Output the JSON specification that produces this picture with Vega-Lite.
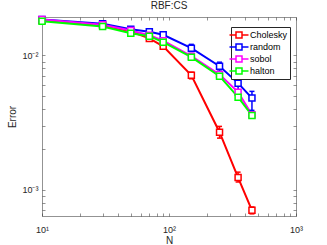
{
  "$schema": "https://vega.github.io/schema/vega-lite/v6.json",
  "width": 254,
  "height": 199,
  "autosize": "none",
  "padding": {"left": 42, "top": 17, "right": 31, "bottom": 29},
  "background": "white",
  "config": {"font": "Liberation Sans", "view": {"stroke": null}},
  "title": {"text": "RBF:CS", "fontSize": 10, "fontWeight": "normal", "color": "#262626", "offset": 3, "dy": 8, "baseline": "alphabetic", "anchor": "middle", "frame": "group"},
  "data": {"values": [
    {"s": "Cholesky", "N": 10, "e": 0.0183, "lo": 0.0181, "hi": 0.0185},
    {"s": "Cholesky", "N": 30, "e": 0.0168, "lo": 0.0166, "hi": 0.0170},
    {"s": "Cholesky", "N": 50, "e": 0.0151, "lo": 0.0149, "hi": 0.0153},
    {"s": "Cholesky", "N": 70, "e": 0.0134, "lo": 0.0132, "hi": 0.0136},
    {"s": "Cholesky", "N": 90, "e": 0.0117, "lo": 0.0115, "hi": 0.0120},
    {"s": "Cholesky", "N": 150, "e": 0.00712, "lo": 0.0067, "hi": 0.0075},
    {"s": "Cholesky", "N": 250, "e": 0.00268, "lo": 0.00242, "hi": 0.00296},
    {"s": "Cholesky", "N": 350, "e": 0.00123, "lo": 0.00114, "hi": 0.00135},
    {"s": "Cholesky", "N": 450, "e": 0.000701, "lo": 0.00066, "hi": 0.000742},
    {"s": "random", "N": 10, "e": 0.0185, "lo": 0.0182, "hi": 0.0188},
    {"s": "random", "N": 30, "e": 0.01722, "lo": 0.0168, "hi": 0.0176},
    {"s": "random", "N": 50, "e": 0.0157, "lo": 0.0153, "hi": 0.0161},
    {"s": "random", "N": 70, "e": 0.0150, "lo": 0.0146, "hi": 0.0154},
    {"s": "random", "N": 90, "e": 0.01426, "lo": 0.0137, "hi": 0.0148},
    {"s": "random", "N": 150, "e": 0.01133, "lo": 0.0107, "hi": 0.0121},
    {"s": "random", "N": 250, "e": 0.00832, "lo": 0.00764, "hi": 0.00891},
    {"s": "random", "N": 350, "e": 0.00622, "lo": 0.00542, "hi": 0.0071},
    {"s": "random", "N": 450, "e": 0.00481, "lo": 0.0039, "hi": 0.0054},
    {"s": "sobol", "N": 10, "e": 0.0185},
    {"s": "sobol", "N": 30, "e": 0.01694},
    {"s": "sobol", "N": 50, "e": 0.01535},
    {"s": "sobol", "N": 70, "e": 0.01416},
    {"s": "sobol", "N": 90, "e": 0.01287},
    {"s": "sobol", "N": 150, "e": 0.00988},
    {"s": "sobol", "N": 250, "e": 0.00722},
    {"s": "sobol", "N": 350, "e": 0.00533},
    {"s": "sobol", "N": 450, "e": 0.00362},
    {"s": "halton", "N": 10, "e": 0.0180},
    {"s": "halton", "N": 30, "e": 0.01644},
    {"s": "halton", "N": 50, "e": 0.01466},
    {"s": "halton", "N": 70, "e": 0.01392},
    {"s": "halton", "N": 90, "e": 0.01256},
    {"s": "halton", "N": 150, "e": 0.00971},
    {"s": "halton", "N": 250, "e": 0.00701},
    {"s": "halton", "N": 350, "e": 0.00489},
    {"s": "halton", "N": 450, "e": 0.00357}
  ]},
  "layer": [
    {
      "mark": {"type": "line", "strokeWidth": 2},
      "encoding": {
        "x": {"field": "N", "type": "quantitative",
          "scale": {"type": "log", "domain": [10, 1000], "nice": false},
          "axis": {"orient": "bottom", "title": "N", "values": [10,20,30,40,50,60,70,80,90,100,200,300,400,500,600,700,800,900,1000],
            "labelExpr": "datum.value == 10 ? '10¹' : datum.value == 100 ? '10²' : datum.value == 1000 ? '10³' : ''",
            "labelFlush": false, "labelOverlap": false, "labelFontSize": 9, "labelColor": "#262626", "labelPadding": 12,
            "tickSize": -3, "tickColor": "#262626", "tickWidth": 0.5, "domainColor": "#262626", "domainWidth": 0.5, "grid": false,
            "titleFontSize": 10, "titleFontWeight": "normal", "titleColor": "#262626", "titlePadding": 1}},
        "y": {"field": "e", "type": "quantitative",
          "scale": {"type": "log", "domain": [0.000636, 0.01935], "nice": false},
          "axis": {"orient": "left", "title": "Error", "values": [0.0007,0.0008,0.0009,0.001,0.002,0.003,0.004,0.005,0.006,0.007,0.008,0.009,0.01],
            "labelExpr": "datum.value == 0.001 ? '10⁻³' : datum.value == 0.01 ? '10⁻²' : ''",
            "labelFlush": false, "labelOverlap": false, "labelFontSize": 9, "labelColor": "#262626", "labelPadding": 7,
            "tickSize": -3, "tickColor": "#262626", "tickWidth": 0.5, "domainColor": "#262626", "domainWidth": 0.5, "grid": false,
            "titleFontSize": 10, "titleFontWeight": "normal", "titleColor": "#262626", "titlePadding": 4}},
        "color": {"field": "s", "type": "nominal",
          "scale": {"domain": ["Cholesky", "random", "sobol", "halton"], "range": ["#ff0000", "#0000ff", "#ff00ff", "#00ff00"]}}
      }
    },
    {
      "transform": [{"filter": {"field": "lo", "valid": true}}],
      "mark": {"type": "rule", "strokeWidth": 1.5},
      "encoding": {
        "x": {"field": "N", "type": "quantitative", "axis": null},
        "y": {"field": "lo", "type": "quantitative", "axis": null},
        "y2": {"field": "hi"},
        "color": {"field": "s", "type": "nominal"}
      }
    },
    {
      "transform": [{"filter": {"field": "lo", "valid": true}}],
      "mark": {"type": "point", "shape": "M-1,0H1", "filled": false, "size": 25, "strokeWidth": 1.5, "opacity": 1},
      "encoding": {
        "x": {"field": "N", "type": "quantitative", "axis": null},
        "y": {"field": "lo", "type": "quantitative", "axis": null},
        "color": {"field": "s", "type": "nominal"}
      }
    },
    {
      "transform": [{"filter": {"field": "lo", "valid": true}}],
      "mark": {"type": "point", "shape": "M-1,0H1", "filled": false, "size": 25, "strokeWidth": 1.5, "opacity": 1},
      "encoding": {
        "x": {"field": "N", "type": "quantitative", "axis": null},
        "y": {"field": "hi", "type": "quantitative", "axis": null},
        "color": {"field": "s", "type": "nominal"}
      }
    },
    {
      "mark": {"type": "point", "shape": "square", "filled": false, "fill": "white", "size": 36, "strokeWidth": 1.5, "opacity": 1},
      "encoding": {
        "x": {"field": "N", "type": "quantitative",
          "axis": {"orient": "top", "title": null, "values": [10,20,30,40,50,60,70,80,90,100,200,300,400,500,600,700,800,900,1000],
            "labels": false, "tickSize": -3, "tickColor": "#262626", "tickWidth": 0.5, "domainColor": "#262626", "domainWidth": 0.5, "grid": false}},
        "y": {"field": "e", "type": "quantitative",
          "axis": {"orient": "right", "title": null, "values": [0.0007,0.0008,0.0009,0.001,0.002,0.003,0.004,0.005,0.006,0.007,0.008,0.009,0.01],
            "labels": false, "tickSize": -3, "tickColor": "#262626", "tickWidth": 0.5, "domainColor": "#262626", "domainWidth": 0.5, "grid": false}},
        "color": {"field": "s", "type": "nominal",
          "legend": {"orient": "none", "legendX": 189, "legendY": 10, "title": null, "strokeColor": "#262626", "fillColor": "white", "padding": 2,
            "labelFontSize": 9, "labelColor": "black", "rowPadding": 0,
            "symbolType": "M-1.9,0H-0.6M0.6,0H1.9M-0.6,-0.6H0.6V0.6H-0.6Z", "symbolSize": 100, "symbolStrokeWidth": 1.5,
            "symbolFillColor": "white", "symbolOffset": 0, "labelOffset": 5}}
      }
    }
  ],
  "resolve": {"axis": {"x": "independent", "y": "independent"}}
}
